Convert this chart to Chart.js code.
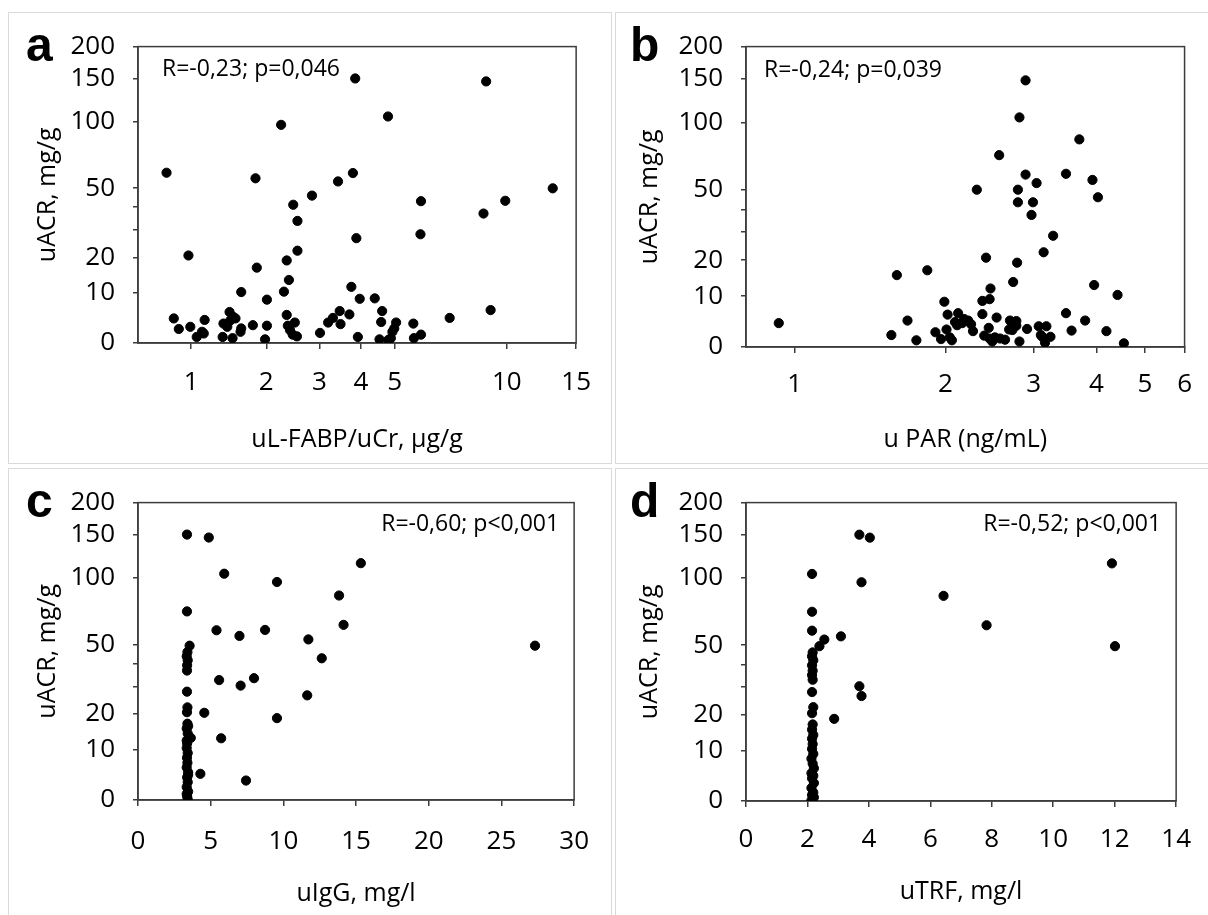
<!DOCTYPE html>
<html>
<head>
<meta charset="utf-8">
<script src="https://cdn.jsdelivr.net/npm/chart.js@4.4.0/dist/chart.umd.min.js"></script>
<style>
  body { margin: 0; background: #fff; width: 1208px; height: 915px; position: relative; overflow: hidden; }
  .frame { position: absolute; border: 1px solid #d9d9d9; box-sizing: border-box; }
  .panel { position: absolute; }
  .tag { position: absolute; font: bold 48px 'Liberation Sans', Arial, sans-serif; line-height: 1; color: #000; }
</style>
</head>
<body>
<div class="frame" style="left:8px;top:12px;width:604px;height:452px"></div>
<div class="frame" style="left:615px;top:12px;width:600px;height:452px"></div>
<div class="frame" style="left:8px;top:468px;width:604px;height:460px"></div>
<div class="frame" style="left:615px;top:468px;width:600px;height:460px"></div>

<canvas id="chartA" class="panel" width="600" height="449" style="left:9px;top:13px"></canvas>
<canvas id="chartB" class="panel" width="592" height="449" style="left:616px;top:13px"></canvas>
<canvas id="chartC" class="panel" width="600" height="446" style="left:9px;top:469px"></canvas>
<canvas id="chartD" class="panel" width="592" height="446" style="left:616px;top:469px"></canvas>

<div class="tag" style="left:26px;top:21px">a</div>
<div class="tag" style="left:630px;top:21px">b</div>
<div class="tag" style="left:26px;top:477px">c</div>
<div class="tag" style="left:630px;top:477px">d</div>

<script>
// y axis (uACR) is shared by all four panels
const yTicks = [0, 10, 20, 30, 40, 50, 100, 150, 200];
const yUnlabelled = [30, 40];

// a: uL-FABP/uCr vs uACR
const aTicks = [1, 2, 3, 4, 5, 10, 15];
const aX = [0.75, 0.97, 0.82, 0.87, 0.99, 1.06, 1.12, 1.15, 1.37, 1.38, 1.46, 1.51, 1.50, 1.43, 1.54,
  1.62, 1.61, 1.62, 1.79, 1.83, 1.85, 1.98, 2.01, 2.01, 2.25, 2.30, 2.35, 2.39, 2.35, 2.37,
  2.41, 2.46, 2.50, 2.54, 2.47, 2.55, 2.55, 2.84, 3.01, 3.19, 3.30, 3.42, 3.46, 3.48, 3.70,
  3.75, 3.79, 3.85, 3.88, 3.97, 3.92, 4.39, 4.61, 4.58, 4.53, 4.79, 4.88, 4.93, 4.99, 5.05,
  5.64, 5.66, 5.92, 5.92, 5.90, 7.08, 8.70, 8.84, 9.08, 9.91, 13.1, 1.14, 1.47, 4.80];
const aY = [59.3, 20.6, 4.4, 2.4, 2.8, 1.0, 1.9, 4.1, 1.0, 3.4, 5.7, 4.7, 0.8, 2.8, 4.4,
  2.5, 1.9, 10.2, 3.1, 55.8, 16.8, 0.6, 3.0, 8.4, 96.8, 10.3, 19.0, 13.3, 5.1, 3.0,
  2.2, 1.4, 3.6, 1.1, 41.2, 33.7, 22.2, 45.9, 1.7, 3.6, 4.5, 53.9, 5.9, 3.3, 5.2,
  11.5, 59.1, 150, 26.7, 8.6, 1.0, 8.7, 5.9, 3.7, 0.6, 105, 0.8, 1.9, 2.5, 3.6,
  3.4, 0.8, 1.4, 43.0, 28.2, 4.5, 37.0, 146, 6.1, 43.2, 49.9, 1.6, 4.0, 0.5];

// b: uPAR vs uACR
const bTicks = [1, 2, 3, 4, 5, 6];
const bX = [0.93, 1.56, 1.60, 1.68, 1.75, 1.84, 1.91, 1.96, 1.99, 2.02, 2.01, 2.04, 2.06, 2.12, 2.11,
  2.16, 2.22, 2.27, 2.31, 2.37, 2.37, 2.39, 2.41, 2.44, 2.45, 2.46, 2.48, 2.53, 2.56, 2.57,
  2.63, 2.68, 2.69, 2.73, 2.77, 2.77, 2.79, 2.79, 2.78, 2.81, 2.81, 2.89, 2.89, 2.91, 2.97,
  2.99, 3.04, 3.07, 3.12, 3.14, 3.16, 3.18, 3.24, 3.28, 3.48, 3.48, 3.57, 3.70, 3.80, 3.93,
  3.96, 4.03, 4.19, 4.41, 4.54, 2.09, 2.18, 2.25, 2.45, 2.51, 2.71, 2.72, 3.10];
const bY = [4.2, 2.0, 15.5, 4.7, 1.1, 16.9, 2.5, 1.3, 8.7, 5.9, 3.0, 1.6, 1.1, 6.2, 3.8,
  4.2, 4.7, 2.7, 50.2, 6.0, 8.9, 1.9, 20.8, 3.3, 9.3, 11.9, 0.9, 5.3, 72.5, 1.4,
  1.2, 3.0, 4.7, 13.6, 4.6, 3.7, 50.2, 43.5, 19.2, 105, 0.9, 148, 59.2, 3.1, 37.4,
  43.5, 54.0, 3.6, 1.7, 22.6, 0.7, 3.6, 1.7, 28.6, 6.2, 59.7, 2.8, 84.9, 4.7, 55.9,
  12.8, 46.1, 2.7, 10.3, 0.6, 4.4, 5.0, 4.0, 1.4, 1.6, 4.4, 2.9, 2.0];

// c: uIgG vs uACR
const cX = [3.37, 4.87, 5.93, 9.56, 15.33, 13.83, 3.37, 5.40, 6.98, 8.74, 14.14, 11.72, 12.64, 27.31, 5.58,
  7.06, 7.98, 11.64, 4.56, 9.56, 5.72, 4.29, 7.43,
  3.55, 3.40, 3.35, 3.42, 3.38, 3.37, 3.37, 3.40, 3.37, 3.40, 3.35, 3.42, 3.63, 3.38, 3.35,
  3.42, 3.37, 3.40, 3.35, 3.45, 3.38, 3.42, 3.35, 3.45, 3.38, 3.42, 3.45, 3.35, 3.45, 3.35];
const cY = [150, 146, 104, 96, 115, 84, 71.5, 58.6, 55.1, 58.8, 62.1, 53.0, 42.7, 49.4, 32.6,
  30.3, 33.4, 26.5, 20.4, 18.7, 12.9, 4.7, 3.4,
  49.4, 45.9, 43.7, 41.7, 39.3, 36.8, 27.9, 22.2, 20.6, 17.0, 15.6, 14.2, 13.0, 11.6, 10.4,
  9.2, 8.1, 7.0, 6.0, 5.0, 4.0, 3.1, 2.2, 1.4, 0.6, 0.1, 16.3, 12.3, 4.5, 1.0];

// d: uTRF vs uACR
const dX = [3.69, 4.03, 2.15, 3.76, 11.91, 6.43, 7.83, 12.01, 2.15, 2.15, 3.09, 2.55, 2.39, 3.69, 3.76, 2.87,
  2.17, 2.15, 2.19, 2.15, 2.17, 2.15, 2.17, 2.15, 2.19, 2.15, 2.17, 2.15, 2.19, 2.15, 2.17,
  2.15, 2.19, 2.13, 2.17, 2.21, 2.13, 2.19, 2.15, 2.21, 2.13, 2.19, 2.15, 2.21, 2.13];
const dY = [150, 146, 104, 96, 115, 84, 62.1, 49.4, 71.5, 58.6, 55.1, 53.2, 49.4, 30.3, 26.5, 18.7,
  46, 44, 42, 39.5, 37, 35, 33, 28, 22.5, 20.5, 17, 15.5, 14, 13, 11.6,
  10.4, 9.2, 8.1, 7, 6, 5, 4.5, 4, 3.1, 2.2, 1.4, 1, 0.6, 0.1];

const AXIS = '#3c3c3c';
Chart.defaults.font.family = "'Open Sans', sans-serif";
Chart.defaults.color = '#000';

// log10(v + shift) axis, used for uACR and for the uL-FABP axis
class ShiftLogScale extends Chart.Scale {
  determineDataLimits() {
    this.min = this.options.min;
    this.max = this.options.max;
  }
  buildTicks() {
    return this.options.tickValues.map(v => ({ value: v }));
  }
  getLabelForValue(v) { return String(v); }
  configure() {
    super.configure();
    const s = this.options.shift;
    this._lo = Math.log10(this.min + s);
    this._span = Math.log10(this.max + s) - this._lo;
  }
  getPixelForValue(v) {
    return this.getPixelForDecimal((Math.log10(v + this.options.shift) - this._lo) / this._span);
  }
  getValueForPixel(p) {
    return Math.pow(10, this._lo + this.getDecimalForPixel(p) * this._span) - this.options.shift;
  }
}
ShiftLogScale.id = 'shiftlog';
ShiftLogScale.defaults = {};
Chart.register(ShiftLogScale);

const boxPlugin = {
  id: 'box',
  beforeDatasetsDraw(chart) {
    const { ctx, chartArea: a } = chart;
    ctx.save();
    ctx.strokeStyle = AXIS;
    ctx.lineWidth = 1.5;
    ctx.strokeRect(a.left, a.top, a.right - a.left, a.bottom - a.top);
    ctx.restore();
  }
};

const notePlugin = {
  id: 'note',
  afterDraw(chart, args, opts) {
    const { ctx, chartArea: a } = chart;
    ctx.save();
    ctx.font = "23px 'Open Sans', sans-serif";
    ctx.fillStyle = '#000';
    ctx.textBaseline = 'alphabetic';
    if (opts.side === 'right') {
      ctx.textAlign = 'right';
      ctx.fillText(opts.text, a.right - opts.dx, a.top + opts.dy);
    } else {
      ctx.textAlign = 'left';
      ctx.fillText(opts.text, a.left + opts.dx, a.top + opts.dy);
    }
    ctx.restore();
  }
};

function axisLook(tickLength) {
  return {
    grid: { drawOnChartArea: false, drawTicks: true, tickLength: tickLength, color: AXIS, lineWidth: 1.5 },
    border: { color: AXIS, width: 1.5 }
  };
}

function makePanel(id, xs, ys, xScale, g, note) {
  const points = xs.map((x, i) => ({ x: x, y: ys[i] }));
  new Chart(document.getElementById(id), {
    type: 'scatter',
    data: {
      datasets: [{
        data: points,
        backgroundColor: '#000',
        borderColor: '#000',
        borderWidth: 1,
        pointRadius: 4.6,
        pointHoverRadius: 4.6
      }]
    },
    options: {
      responsive: false,
      animation: false,
      events: [],
      layout: { padding: { top: g.padTop, right: g.padRight, left: 0, bottom: 0 } },
      plugins: { legend: { display: false }, tooltip: { enabled: false }, note: note },
      scales: {
        x: Object.assign({
          position: 'bottom',
          ticks: Object.assign({ font: { size: 26 }, padding: g.xTickPad, maxRotation: 0, autoSkip: false }, xScale.ticks || {}),
          title: { display: true, text: g.xTitle, font: { size: 25 }, padding: { top: 0, bottom: g.xTitlePad } },
          afterFit: s => { s.height = g.xHeight; }
        }, axisLook(6), xScale.base),
        y: Object.assign({
          type: 'shiftlog',
          position: 'left',
          min: 0, max: 200, shift: 20,
          tickValues: yTicks,
          ticks: {
            font: { size: 26 }, padding: 18, autoSkip: false,
            callback: v => yUnlabelled.includes(v) ? '' : String(v)
          },
          title: { display: true, text: 'uACR, mg/g', font: { size: 25 }, padding: { top: g.yTitlePad, bottom: 0 } },
          afterFit: s => { s.width = g.yWidth; }
        }, axisLook(5))
      }
    },
    plugins: [boxPlugin, notePlugin]
  });
}

makePanel('chartA', aX, aY,
  { base: { type: 'shiftlog', min: 0.5, max: 15, shift: 1, tickValues: aTicks } },
  { padTop: 29, padRight: 28, yWidth: 129, xHeight: 119, yTitlePad: 24, xTitlePad: 7, xTickPad: 18, xTitle: 'uL-FABP/uCr, \u00b5g/g' },
  { text: 'R=-0,23; p=0,046', side: 'left', dx: 24, dy: 29 });

makePanel('chartB', bX, bY,
  { base: { type: 'shiftlog', min: 0.8, max: 6, shift: 0, tickValues: bTicks } },
  { padTop: 29, padRight: 11, yWidth: 130, xHeight: 115, yTitlePad: 19, xTitlePad: 7, xTickPad: 16, xTitle: 'u PAR (ng/mL)' },
  { text: 'R=-0,24; p=0,039', side: 'left', dx: 18, dy: 30 });

makePanel('chartC', cX, cY,
  { base: { type: 'linear', min: 0, max: 30 }, ticks: { stepSize: 5 } },
  { padTop: 28, padRight: 28, yWidth: 129, xHeight: 115, yTitlePad: 24, xTitlePad: 6, xTickPad: 20, xTitle: 'uIgG, mg/l' },
  { text: 'R=-0,60; p<0,001', side: 'right', dx: 15, dy: 28 });

makePanel('chartD', dX, dY,
  { base: { type: 'linear', min: 0, max: 14 }, ticks: { stepSize: 2 } },
  { padTop: 28, padRight: 19, yWidth: 130, xHeight: 114, yTitlePad: 19, xTitlePad: 8, xTickPad: 17, xTitle: 'uTRF, mg/l' },
  { text: 'R=-0,52; p<0,001', side: 'right', dx: 15, dy: 28 });
</script>
</body>
</html>
